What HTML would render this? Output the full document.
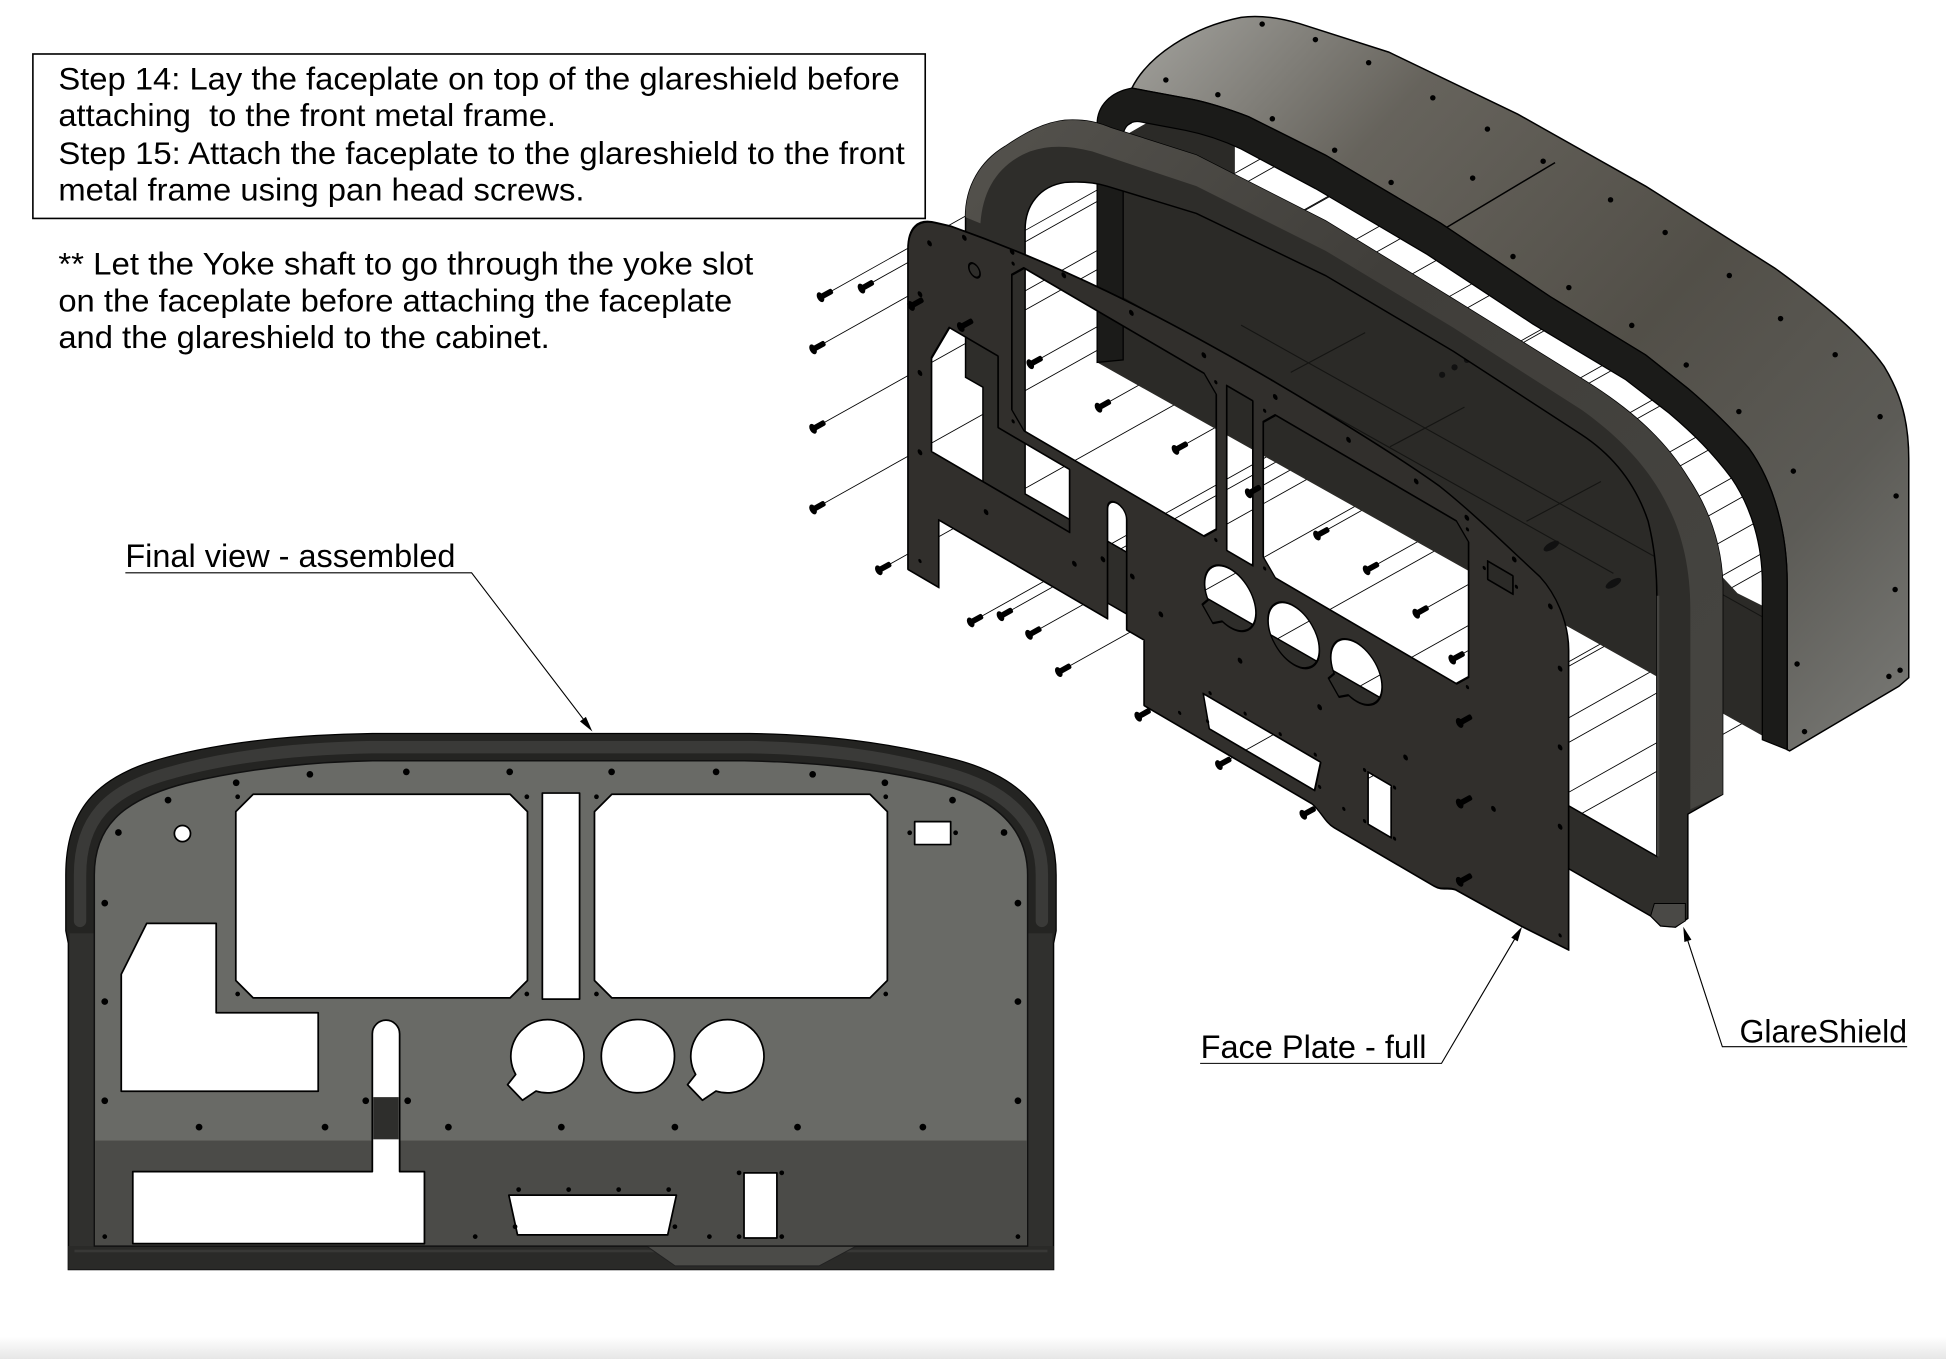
<!DOCTYPE html>
<html><head><meta charset="utf-8"><style>html,body{margin:0;padding:0;background:#fff}svg{display:block}</style></head>
<body>
<svg xmlns="http://www.w3.org/2000/svg" xmlns:xlink="http://www.w3.org/1999/xlink" width="1946" height="1359" viewBox="0 0 1568 1095" preserveAspectRatio="none">
<defs>
<linearGradient id="cabG" gradientUnits="userSpaceOnUse" x1="950" y1="20" x2="1540" y2="560">
<stop offset="0" stop-color="#9a9994"/><stop offset="0.22" stop-color="#66635c"/><stop offset="0.55" stop-color="#524f48"/><stop offset="0.8" stop-color="#5c5b56"/><stop offset="1" stop-color="#767672"/>
</linearGradient>
<linearGradient id="gsG" gradientUnits="userSpaceOnUse" x1="790" y1="100" x2="1390" y2="640">
<stop offset="0" stop-color="#54524d"/><stop offset="0.4" stop-color="#403e3a"/><stop offset="1" stop-color="#464541"/>
</linearGradient>
<linearGradient id="fade" x1="0" y1="0" x2="0" y2="1">
<stop offset="0" stop-color="#ffffff"/><stop offset="1" stop-color="#e6e6e6"/>
</linearGradient>
<path id="cuts" d="M97.7,785 L118.2,744 L174.2,744 L174.2,816 L256.4,816 L256.4,879.3 L97.7,879.3 Z M204,640 L411,640 L425,654 L425,790 L411,804 L204,804 L190,790 L190,654 Z M437,639 L467,639 L467,805 L437,805 Z M493,640 L701,640 L715,654 L715,790 L701,804 L493,804 L479,790 L479,654 Z M737,662 L766,662 L766,680.5 L737,680.5 Z M140.5,671.6 A6.5,6.5 0 1 0 153.5,671.6 A6.5,6.5 0 1 0 140.5,671.6 Z M415.5,865.75 L409,874 L421,886.5 L431.9,879.1 A29.5,29.5 0 1 0 415.5,865.75 Z M484.5,851 A29.5,29.5 0 1 0 543.5,851 A29.5,29.5 0 1 0 484.5,851 Z M560.5,865.75 L554,874 L566,886.5 L576.9,879.1 A29.5,29.5 0 1 0 560.5,865.75 Z M410,963 L545,963 L538,995 L417,995 Z M599.5,945 L626,945 L626,997.5 L599.5,997.5 Z"/>
<g id="fd" fill="#000">
<circle cx="190.3" cy="630.7" r="2.7"/><circle cx="249.7" cy="623.9" r="2.7"/><circle cx="327.4" cy="621.9" r="2.7"/><circle cx="410.7" cy="621.9" r="2.7"/><circle cx="492.8" cy="621.9" r="2.7"/><circle cx="577" cy="621.9" r="2.7"/><circle cx="654.8" cy="623.9" r="2.7"/><circle cx="713" cy="630.7" r="2.7"/><circle cx="135.4" cy="644.7" r="2.7"/><circle cx="767.5" cy="644.7" r="2.7"/><circle cx="95.4" cy="670.8" r="2.7"/><circle cx="809" cy="670.8" r="2.7"/>
<circle cx="84.4" cy="727.7" r="2.7"/><circle cx="84.4" cy="807" r="2.7"/><circle cx="84.4" cy="886.9" r="2.7"/><circle cx="820.2" cy="727.7" r="2.7"/><circle cx="820.2" cy="807" r="2.7"/><circle cx="820.2" cy="886.9" r="2.7"/>
<circle cx="160.4" cy="908.2" r="2.7"/><circle cx="261.9" cy="908.2" r="2.7"/><circle cx="361.3" cy="908.2" r="2.7"/><circle cx="452.3" cy="908.2" r="2.7"/><circle cx="543.8" cy="908.2" r="2.7"/><circle cx="642.6" cy="908.2" r="2.7"/><circle cx="743.6" cy="908.2" r="2.7"/><circle cx="294.7" cy="886.9" r="2.7"/><circle cx="328.5" cy="886.9" r="2.7"/>
<circle cx="191.5" cy="642" r="1.9"/><circle cx="424.5" cy="642" r="1.9"/><circle cx="480.6" cy="642" r="1.9"/><circle cx="713.7" cy="642" r="1.9"/><circle cx="191.5" cy="800.9" r="1.9"/><circle cx="424.5" cy="800.9" r="1.9"/><circle cx="480.6" cy="800.9" r="1.9"/><circle cx="713.7" cy="800.9" r="1.9"/>
<circle cx="84.4" cy="996.4" r="1.9"/><circle cx="820.2" cy="996.4" r="1.9"/><circle cx="382.9" cy="996.4" r="1.9"/><circle cx="571.6" cy="996.4" r="1.9"/>
<circle cx="417.9" cy="958.5" r="1.9"/><circle cx="458.2" cy="958.5" r="1.9"/><circle cx="498.5" cy="958.5" r="1.9"/><circle cx="538.8" cy="958.5" r="1.9"/><circle cx="415" cy="988.4" r="1.9"/><circle cx="543.8" cy="988.4" r="1.9"/>
<circle cx="595.5" cy="945" r="1.9"/><circle cx="629.9" cy="945" r="1.9"/><circle cx="595.5" cy="996.4" r="1.9"/><circle cx="629.9" cy="996.4" r="1.9"/><circle cx="733" cy="671" r="1.9"/><circle cx="770" cy="671" r="1.9"/>
</g>
<g id="scr"><rect x="-1" y="-2.3" width="11" height="4.6" rx="1.6"/><ellipse cx="-1" cy="0" rx="2.6" ry="4.3"/></g>
</defs>

<rect width="1568" height="1095" fill="#fff"/>
<rect x="0" y="1077" width="1568" height="18" fill="url(#fade)"/>

<!-- leader / screw lines (bottom layer) -->
<g stroke="#000" stroke-width="0.7" fill="none">
<line x1="662" y1="239" x2="912" y2="99"/>
<line x1="695" y1="232" x2="945" y2="92"/>
<line x1="656" y1="281" x2="936" y2="124"/>
<line x1="656" y1="345" x2="956" y2="177"/>
<line x1="656" y1="410" x2="956" y2="242"/>
<line x1="709" y1="459" x2="1009" y2="291"/>
<line x1="783" y1="501" x2="1103" y2="322"/>
<line x1="807" y1="496" x2="1127" y2="317"/>
<line x1="830" y1="511" x2="1150" y2="332"/>
<line x1="854" y1="541" x2="1174" y2="362"/>
<line x1="886" y1="328" x2="1186" y2="160"/>
<line x1="948" y1="362" x2="1248" y2="194"/>
<line x1="1007" y1="397" x2="1307" y2="229"/>
<line x1="1062" y1="431" x2="1362" y2="263"/>
<line x1="1102" y1="459" x2="1402" y2="291"/>
<line x1="1142" y1="494" x2="1442" y2="326"/>
<line x1="1171" y1="531" x2="1451" y2="374"/>
<line x1="918" y1="577" x2="1238" y2="398"/>
<line x1="983" y1="616" x2="1303" y2="437"/>
<line x1="1051" y1="656" x2="1371" y2="477"/>
<line x1="1177" y1="582" x2="1457" y2="425"/>
<line x1="1177" y1="647" x2="1457" y2="490"/>
<line x1="1177" y1="710" x2="1427" y2="570"/>
<line x1="1190" y1="620" x2="1350" y2="530"/>
<line x1="1190" y1="680" x2="1350" y2="590"/>
<line x1="735" y1="246" x2="995" y2="100"/>
<line x1="775" y1="263" x2="1055" y2="106"/>
<line x1="831" y1="293" x2="1131" y2="125"/>
<line x1="900" y1="118" x2="980" y2="73"/>
<line x1="945" y1="135" x2="1025" y2="90"/>
<line x1="990" y1="155" x2="1070" y2="110"/>
<line x1="1035" y1="178" x2="1115" y2="133"/>
<line x1="1080" y1="200" x2="1160" y2="155"/>
<line x1="1125" y1="228" x2="1205" y2="183"/>
<line x1="1170" y1="255" x2="1250" y2="210"/>
<line x1="1215" y1="283" x2="1295" y2="238"/>
<line x1="1260" y1="312" x2="1340" y2="267"/>
<line x1="1300" y1="340" x2="1380" y2="295"/>
<line x1="1335" y1="370" x2="1415" y2="325"/>
<line x1="1360" y1="405" x2="1440" y2="360"/>
<line x1="1372" y1="445" x2="1452" y2="400"/>
<line x1="1375" y1="485" x2="1455" y2="440"/>
</g>

<!-- CABINET -->
<path d="M905,110 L995,58 L995,150 L1220,290 L1300,370 L1400,478 L1440,498 L1440,604 L884,292 Z" fill="#2b2a27"/>
<g stroke="#151513" stroke-width="0.9" fill="none">
<line x1="1000" y1="262" x2="1420" y2="497"/>
<line x1="905" y1="240" x2="1300" y2="462"/>
<path d="M1230,420 L1290,388 M1120,360 L1180,328 M1040,300 L1100,268"/>
</g>
<g fill="#111"><ellipse cx="1250" cy="440" rx="7" ry="3" transform="rotate(-30 1250 440)"/><ellipse cx="1300" cy="470" rx="7" ry="3" transform="rotate(-30 1300 470)"/><circle cx="1162" cy="302" r="2.5"/><circle cx="1172" cy="296" r="2.5"/><circle cx="1182" cy="290" r="2.5"/><circle cx="1192" cy="284" r="2.5"/></g>
<path d="M912,71 C925,45 960,22 1000,14 C1015,12 1030,14 1047,19 L1119,42 L1223,92 L1326,150 L1430,216 C1470,245 1500,270 1518,295 C1532,318 1538,340 1538,370 L1538,546 L1530,553 L1442,605 L1440,604 L1440,470 C1440,430 1430,390 1409,361 C1395,345 1380,330 1360,313 L1326,286 L1249,239 L1161,180 L1068,125 L1006,94 C990,88 975,83 960,80 Z" fill="url(#cabG)" stroke="#000" stroke-width="1.2"/>
<path d="M884,292 L884,100 C884,85 895,74 912,71 L960,80 C975,83 990,88 1006,94 L1068,125 L1161,180 L1249,239 L1326,286 L1360,313 C1380,330 1395,345 1409,361 C1430,390 1440,430 1440,470 L1440,604 L1420,596 L1420,470 C1420,440 1412,410 1395,385 C1380,365 1365,350 1345,333 L1310,306 L1235,261 L1150,205 L1060,152 L1000,120 C985,113 970,108 955,105 L918,98 C910,97 905,103 905,110 L905,290 Z" fill="#1b1b19" stroke="#000" stroke-width="1"/>
<line x1="1253" y1="131" x2="1166" y2="183" stroke="#000" stroke-width="1.2"/>
<g fill="#000">
<circle cx="1017" cy="19.4" r="2.2"/><circle cx="1059.9" cy="31.9" r="2.2"/><circle cx="1102.8" cy="50.5" r="2.2"/><circle cx="1154.5" cy="78.8" r="2.2"/><circle cx="1198.5" cy="104" r="2.2"/><circle cx="1243.4" cy="129.9" r="2.2"/><circle cx="1297.7" cy="161" r="2.2"/><circle cx="1341.7" cy="187.3" r="2.2"/><circle cx="1393.4" cy="222" r="2.2"/><circle cx="1434.7" cy="256.7" r="2.2"/><circle cx="1478.7" cy="285.8" r="2.2"/><circle cx="1514.9" cy="335.7" r="2.2"/><circle cx="1527.8" cy="399.6" r="2.2"/><circle cx="1527" cy="475" r="2.2"/><circle cx="1531" cy="540" r="2.2"/><circle cx="1522" cy="545" r="2.2"/>
<circle cx="939.4" cy="64.4" r="2.2"/><circle cx="981.3" cy="76.3" r="2.2"/><circle cx="1025.2" cy="95.7" r="2.2"/><circle cx="1075.4" cy="121" r="2.2"/><circle cx="1120.9" cy="147" r="2.2"/><circle cx="1186.6" cy="143.5" r="2.2"/><circle cx="1219.1" cy="206.7" r="2.2"/><circle cx="1264.1" cy="231.7" r="2.2"/><circle cx="1314.8" cy="262.2" r="2.2"/><circle cx="1358.7" cy="294.1" r="2.2"/><circle cx="1401.1" cy="331.6" r="2.2"/><circle cx="1445" cy="379.6" r="2.2"/><circle cx="1454" cy="589.5" r="2.2"/><circle cx="1448" cy="535" r="2.2"/>
</g>

<!-- GLARESHIELD (exploded) -->
<path fill-rule="evenodd" d="M792,428 L792,312 L778,304 L778,175 C778,150 790,130 810,118 C825,108 840,99 858,97 C875,96 885,99 895,103 L964,125 L1068,178 L1171,241 L1274,305 C1310,327 1340,352 1360,385 C1378,412 1387,440 1388,470 L1388,640 L1360,656 L1360,740 L1350,747 L1338,746 L1330,738 Z M826,398 L826,185 C826,165 838,150 858,147 C872,146 882,147 892,150 L964,172 L1068,222 L1171,283 L1274,350 C1300,367 1318,390 1328,420 C1333,440 1335,460 1335,480 L1335,690 Z" fill="#2e2d2a" stroke="#000" stroke-width="1.2"/>
<path d="M778,175 C778,150 790,130 810,118 C825,108 840,99 858,97 C875,96 885,99 895,103 L964,125 L1068,178 L1171,241 L1274,305 C1310,327 1340,352 1360,385 C1378,412 1387,440 1388,470 L1388,640 L1362,652 L1362,490 C1362,460 1356,432 1345,410 C1330,378 1305,352 1274,330 L1171,264 L1068,202 L964,150 L880,122 C860,117 845,117 830,122 C805,132 792,152 790,180 Z" fill="url(#gsG)"/>
<path d="M1333,728 L1358,728 L1358,742 L1350,747 L1338,746 L1330,738 Z" fill="#4a4946" stroke="#000" stroke-width="0.8"/>
<line x1="1336" y1="480" x2="1336" y2="690" stroke="#444340" stroke-width="2"/>

<!-- FACEPLATE (exploded, affine of front view) -->
<g transform="matrix(0.701,0.41,0,0.8,682.1,-379.7)">
<path fill-rule="evenodd" fill="#312f2c" stroke="#000" stroke-width="1.9" stroke-linejoin="round" d="M70.6,1012 L70.6,690 C70.6,668 82,652 104,646 L120,641 C250,615 350,608 476,607 C560,607 640,610 682,615 C720,622 760,636 797,647 C815,655 830,675 830,704 L830,1006 L775,1010 L700,1012 C690,1014 685,1021 675,1021 L560,1021 C550,1021 545,1012 535,1010 L342,1010 L342,944 L322,944 L322,833 A11,11 0 0 0 300,833 L300,944 L106,944 L106,1012 Z M97.7,785 L118.2,744 L174.2,744 L174.2,816 L256.4,816 L256.4,879.3 L97.7,879.3 Z M204,640 L411,640 L425,654 L425,790 L411,804 L204,804 L190,790 L190,654 Z M437,639 L467,639 L467,805 L437,805 Z M493,640 L701,640 L715,654 L715,790 L701,804 L493,804 L479,790 L479,654 Z M737,662 L766,662 L766,680.5 L737,680.5 Z M140.5,671.6 A6.5,6.5 0 1 0 153.5,671.6 A6.5,6.5 0 1 0 140.5,671.6 Z M415.5,865.75 L409,874 L421,886.5 L431.9,879.1 A29.5,29.5 0 1 0 415.5,865.75 Z M484.5,851 A29.5,29.5 0 1 0 543.5,851 A29.5,29.5 0 1 0 484.5,851 Z M560.5,865.75 L554,874 L566,886.5 L576.9,879.1 A29.5,29.5 0 1 0 560.5,865.75 Z M410,963 L545,963 L538,995 L417,995 Z M599.5,945 L626,945 L626,997.5 L599.5,997.5 Z"/>
<use xlink:href="#fd" href="#fd"/>
</g>

<!-- screws -->
<g fill="#000">
<use href="#scr" xlink:href="#scr" transform="translate(662,239) rotate(-29)"/>
<use href="#scr" xlink:href="#scr" transform="translate(695,232) rotate(-29)"/>
<use href="#scr" xlink:href="#scr" transform="translate(656,281) rotate(-29)"/>
<use href="#scr" xlink:href="#scr" transform="translate(656,345) rotate(-29)"/>
<use href="#scr" xlink:href="#scr" transform="translate(656,410) rotate(-29)"/>
<use href="#scr" xlink:href="#scr" transform="translate(709,459) rotate(-29)"/>
<use href="#scr" xlink:href="#scr" transform="translate(783,501) rotate(-29)"/>
<use href="#scr" xlink:href="#scr" transform="translate(807,496) rotate(-29)"/>
<use href="#scr" xlink:href="#scr" transform="translate(830,511) rotate(-29)"/>
<use href="#scr" xlink:href="#scr" transform="translate(854,541) rotate(-29)"/>
<use href="#scr" xlink:href="#scr" transform="translate(886,328) rotate(-29)"/>
<use href="#scr" xlink:href="#scr" transform="translate(948,362) rotate(-29)"/>
<use href="#scr" xlink:href="#scr" transform="translate(1007,397) rotate(-29)"/>
<use href="#scr" xlink:href="#scr" transform="translate(1062,431) rotate(-29)"/>
<use href="#scr" xlink:href="#scr" transform="translate(1102,459) rotate(-29)"/>
<use href="#scr" xlink:href="#scr" transform="translate(1142,494) rotate(-29)"/>
<use href="#scr" xlink:href="#scr" transform="translate(1171,531) rotate(-29)"/>
<use href="#scr" xlink:href="#scr" transform="translate(918,577) rotate(-29)"/>
<use href="#scr" xlink:href="#scr" transform="translate(983,616) rotate(-29)"/>
<use href="#scr" xlink:href="#scr" transform="translate(1051,656) rotate(-29)"/>
<use href="#scr" xlink:href="#scr" transform="translate(1177,582) rotate(-29)"/>
<use href="#scr" xlink:href="#scr" transform="translate(1177,647) rotate(-29)"/>
<use href="#scr" xlink:href="#scr" transform="translate(1177,710) rotate(-29)"/>
<use href="#scr" xlink:href="#scr" transform="translate(735,246) rotate(-29)"/>
<use href="#scr" xlink:href="#scr" transform="translate(775,263) rotate(-29)"/>
<use href="#scr" xlink:href="#scr" transform="translate(831,293) rotate(-29)"/>
</g>

<!-- FRONT VIEW (assembled) -->
<path d="M55,1023 L55,760 L53,750 L53,705 C53,655 75,625 135,610 C185,597 240,592 300,591 L604,591 C664,592 715,598 770,612 C830,628 851,662 851,705 L851,750 L849,760 L849,1023 Z" fill="#242422" stroke="#000" stroke-width="1"/>
<path d="M64.5,742 L64.5,705 C64.5,662 85,636 140,622 C190,608 245,603 300,602 L604,602 C662,603 710,609 762,623 C818,638 839.5,668 839.5,705 L839.5,742" fill="none" stroke="#3a3a38" stroke-width="10" stroke-linecap="round"/>
<rect x="56" y="752" width="20" height="252" fill="#30302e"/>
<rect x="828" y="752" width="20" height="252" fill="#30302e"/>
<rect x="55" y="1004" width="794" height="19" fill="#2a2a28"/>
<line x1="60" y1="1008" x2="844" y2="1008" stroke="#383836" stroke-width="2"/>
<path d="M76,1004 L76,705 C76,668 96,645 150,631 C200,619 250,614 300,613 L600,613 C660,614 710,620 755,631 C808,645 828,672 828,705 L828,1004 Z" fill="#696a66" stroke="#111" stroke-width="1.2"/>
<rect x="76.6" y="919" width="750.8" height="84.4" fill="#4b4b48"/>
<path d="M521,1004 L544,1020 L660,1020 L690,1004 Z" fill="#4b4b48" stroke="#222" stroke-width="0.8"/>
<line x1="76" y1="1004" x2="828" y2="1004" stroke="#111" stroke-width="1.2"/>
<use href="#cuts" xlink:href="#cuts" fill="#fff" stroke="#000" stroke-width="1.4" stroke-linejoin="round"/>
<path d="M107,944 L300,944 L300,833 A11,11 0 0 1 322,833 L322,944 L342,944 L342,1002 L107,1002 Z" fill="#fff" stroke="#000" stroke-width="1.4" stroke-linejoin="round"/>
<rect x="300.7" y="884" width="20.6" height="34" fill="#2e2e2c"/>
<use href="#fd" xlink:href="#fd"/>

<!-- TEXT BOX -->
<rect x="26.5" y="43.5" width="719" height="132.5" fill="none" stroke="#000" stroke-width="1.3"/>
<g font-family="'Liberation Sans', Arial, sans-serif" fill="#000" font-size="25">
<text x="47" y="72" textLength="678" lengthAdjust="spacingAndGlyphs">Step 14: Lay the faceplate on top of the glareshield before</text>
<text x="47" y="101.5" textLength="401" lengthAdjust="spacingAndGlyphs" style="white-space:pre" xml:space="preserve">attaching  to the front metal frame.</text>
<text x="47" y="132" textLength="682" lengthAdjust="spacingAndGlyphs">Step 15: Attach the faceplate to the glareshield to the front</text>
<text x="47" y="161.5" textLength="424" lengthAdjust="spacingAndGlyphs">metal frame using pan head screws.</text>
<text x="47" y="221" textLength="560" lengthAdjust="spacingAndGlyphs">** Let the Yoke shaft to go through the yoke slot</text>
<text x="47" y="251" textLength="543" lengthAdjust="spacingAndGlyphs">on the faceplate before attaching the faceplate</text>
<text x="47" y="280.5" textLength="396" lengthAdjust="spacingAndGlyphs">and the glareshield to the cabinet.</text>
</g>

<!-- LABELS -->
<g font-family="'Liberation Sans', Arial, sans-serif" fill="#000" font-size="26">
<text x="101" y="457" textLength="266" lengthAdjust="spacingAndGlyphs">Final view - assembled</text>
<text x="967.4" y="852.5" textLength="182" lengthAdjust="spacingAndGlyphs">Face Plate - full</text>
<text x="1401.6" y="840" textLength="135" lengthAdjust="spacingAndGlyphs">GlareShield</text>
</g>
<g stroke="#000" stroke-width="0.9" fill="none">
<path d="M101,461.5 L380,461.5 L472,582"/>
<path d="M967,856.8 L1161.5,856.8 L1222,754"/>
<path d="M1536.7,843.4 L1387.8,843.4 L1359,755"/>
</g>
<g fill="#000">
<path d="M477.3,589.4 L467.3,581.2 L472.1,577.6 Z"/>
<path d="M1226.4,746.7 L1222.9,758.5 L1217.7,755.5 Z"/>
<path d="M1356.3,746.7 L1362.9,757.2 L1357.2,759 Z"/>
</g>
</svg>
</body></html>
